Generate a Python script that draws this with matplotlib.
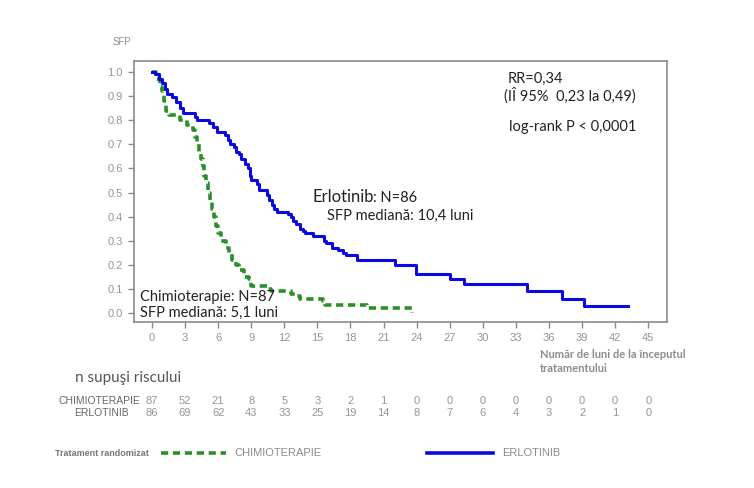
import matplotlib
matplotlib.use('Agg')
import matplotlib.pyplot as plt
import matplotlib.transforms as mtransforms

# Curbe Kaplan-Meier (luni, SFP)
erl_t = [0, 0.3, 0.6, 0.9, 1.2, 1.4, 1.8, 2.2, 2.5, 2.8, 3.9, 4.1, 5.2, 5.5, 5.9,
         6.6, 6.9, 7.1, 7.4, 7.6, 7.9, 8.1, 8.4, 8.7, 8.85, 9.0, 9.5, 9.7, 10.4,
         10.6, 10.9, 11.1, 11.3, 12.3, 12.6, 12.8, 13.1, 13.4, 13.7, 13.9, 14.6,
         15.6, 15.8, 16.3, 16.9, 17.3, 17.6, 18.6, 22.0, 23.9, 27.0, 28.3, 34.0,
         37.2, 39.2, 43.2]
erl_s = [1.0, 0.99, 0.97, 0.955, 0.93, 0.91, 0.895, 0.875, 0.85, 0.83, 0.815,
         0.80, 0.79, 0.77, 0.75, 0.74, 0.72, 0.70, 0.69, 0.67, 0.66, 0.64, 0.62,
         0.60, 0.57, 0.55, 0.535, 0.51, 0.49, 0.47, 0.45, 0.43, 0.42, 0.41, 0.40,
         0.38, 0.37, 0.35, 0.34, 0.33, 0.32, 0.30, 0.29, 0.27, 0.26, 0.25, 0.24,
         0.22, 0.20, 0.16, 0.14, 0.12, 0.09, 0.06, 0.03, 0.03]

chim_t = [0, 0.4, 0.7, 0.9, 1.1, 1.3, 1.5, 2.5, 3.2, 3.7, 3.9, 4.1, 4.3, 4.45,
          4.6, 4.75, 4.9, 5.1, 5.3, 5.45, 5.6, 5.8, 6.0, 6.3, 6.7, 7.0, 7.3, 7.6,
          7.9, 8.3, 8.8, 9.0, 10.4, 10.8, 12.6, 13.0, 13.4, 15.5, 15.7, 19.5, 23.6]
chim_s = [1.0, 0.97, 0.94, 0.92, 0.88, 0.84, 0.82, 0.80, 0.78, 0.76, 0.73, 0.70,
          0.67, 0.64, 0.61, 0.57, 0.54, 0.50, 0.46, 0.43, 0.40, 0.36, 0.33, 0.30,
          0.27, 0.25, 0.22, 0.20, 0.18, 0.15, 0.14, 0.11, 0.10, 0.09, 0.08, 0.07,
          0.06, 0.05, 0.035, 0.02, 0.0]

# tabelul cu pacientii la risc
risk_times = [0, 3, 6, 9, 12, 15, 18, 21, 24, 27, 30, 33, 36, 39, 42, 45]
risk_chim = [87, 52, 21, 8, 5, 3, 2, 1, 0, 0, 0, 0, 0, 0, 0, 0]
risk_erl = [86, 69, 62, 43, 33, 25, 19, 14, 8, 7, 6, 4, 3, 2, 1, 0]

y_ticks = [0.0, 0.1, 0.2, 0.3, 0.4, 0.5, 0.6, 0.7, 0.8, 0.9, 1.0]

W, H = 754, 488
BLUE = '#0a0ae0'
GREEN = '#2a8f2a'
GREY = '#8a8a8a'
NARROW = ['Liberation Sans Narrow', 'Liberation Sans', 'DejaVu Sans']
CAL = ['Lato', 'DejaVu Sans']


def fx(x):
    return x / W


def fy(y):
    return 1 - y / H


fig = plt.figure(figsize=(W / 100, H / 100), dpi=100)
ax = fig.add_axes([fx(134), fy(322), fx(667) - fx(134), (322 - 61) / H])

ax.step(chim_t, chim_s, where='post', color=GREEN, lw=2.6,
        linestyle=(0, (2.0, 1.3)))
ax.step(erl_t, erl_s, where='post', color=BLUE, lw=2.2)

ax.set_xlim(-1.63, 46.7)
ax.set_ylim(-0.0375, 1.046)
ax.set_xticks(risk_times)
ax.set_yticks(y_ticks)
ax.set_yticklabels(['%.1f' % v for v in y_ticks])
for s in ax.spines.values():
    s.set_color(GREY)
    s.set_linewidth(1.2)
ax.tick_params(direction='out', length=4, width=1, color=GREY,
               labelcolor='#959595', labelsize=8, pad=4)
for lab in ax.get_xticklabels() + ax.get_yticklabels():
    lab.set_family(NARROW)

# textele din grafic
fig.text(fx(113), fy(42), 'SFP', fontsize=7, color='#8c8c8c', va='center',
         family=NARROW)
fig.text(fx(508), fy(79), 'RR=0,34', fontsize=10.5, color='#222222',
         va='center', family=CAL)
fig.text(fx(504), fy(96), '(IÎ 95%  0,23 la 0,49)', fontsize=10.5,
         color='#222222', va='center', family=CAL)
fig.text(fx(509), fy(127), 'log-rank P < 0,0001', fontsize=10.5,
         color='#222222', va='center', family=CAL)

fig.text(fx(312), fy(197), 'Erlotinib', fontsize=12, color='#222222',
         va='center', family=CAL)
fig.text(fx(373), fy(198), ': N=86', fontsize=10.5, color='#222222',
         va='center', family=CAL)
fig.text(fx(327), fy(216), 'SFP mediană: 10,4 luni', fontsize=10.5,
         color='#222222', va='center', family=CAL)
fig.text(fx(140), fy(297), 'Chimioterapie: N=87', fontsize=10.5,
         color='#222222', va='center', family=CAL)
fig.text(fx(140), fy(313), 'SFP mediană: 5,1 luni', fontsize=10.5,
         color='#222222', va='center', family=CAL)

fig.text(fx(540), fy(355), 'Număr de luni de la începutul', fontsize=8,
         color='#8c8c8c', va='center', family=CAL, fontweight='bold')
fig.text(fx(540), fy(369), 'tratamentului', fontsize=8,
         color='#8c8c8c', va='center', family=CAL, fontweight='bold')

# tabel la risc
fig.text(fx(75), fy(378), 'n supuşi riscului', fontsize=11, color='#555555',
         va='center', family=CAL)
fig.text(fx(140), fy(401), 'CHIMIOTERAPIE', fontsize=7.5, color='#666666',
         va='center', ha='right', family=NARROW)
fig.text(fx(129), fy(413), 'ERLOTINIB', fontsize=7.5, color='#666666',
         va='center', ha='right', family=NARROW)
trans = mtransforms.blended_transform_factory(ax.transData, fig.transFigure)
for t, c, e in zip(risk_times, risk_chim, risk_erl):
    fig.text(t, fy(401), str(c), transform=trans, fontsize=8,
             color='#959595', va='center', ha='center', family=NARROW)
    fig.text(t, fy(413), str(e), transform=trans, fontsize=8,
             color='#959595', va='center', ha='center', family=NARROW)

# legenda
fig.text(fx(55), fy(453), 'Tratament randomizat', fontsize=6.5,
         color='#777777', va='center', family=NARROW, fontweight='bold')
fig.add_artist(plt.Line2D([fx(161), fx(226)], [fy(453), fy(453)],
                          color=GREEN, lw=2.6, linestyle=(0, (2.0, 1.3))))
fig.text(fx(234), fy(453), 'CHIMIOTERAPIE', fontsize=8, color='#8c8c8c',
         va='center', family=NARROW)
fig.add_artist(plt.Line2D([fx(427), fx(493)], [fy(453), fy(453)],
                          color=BLUE, lw=2.6))
fig.text(fx(502), fy(453), 'ERLOTINIB', fontsize=8, color='#8c8c8c',
         va='center', family=NARROW)

fig.savefig('out.png', dpi=100, facecolor='white')
